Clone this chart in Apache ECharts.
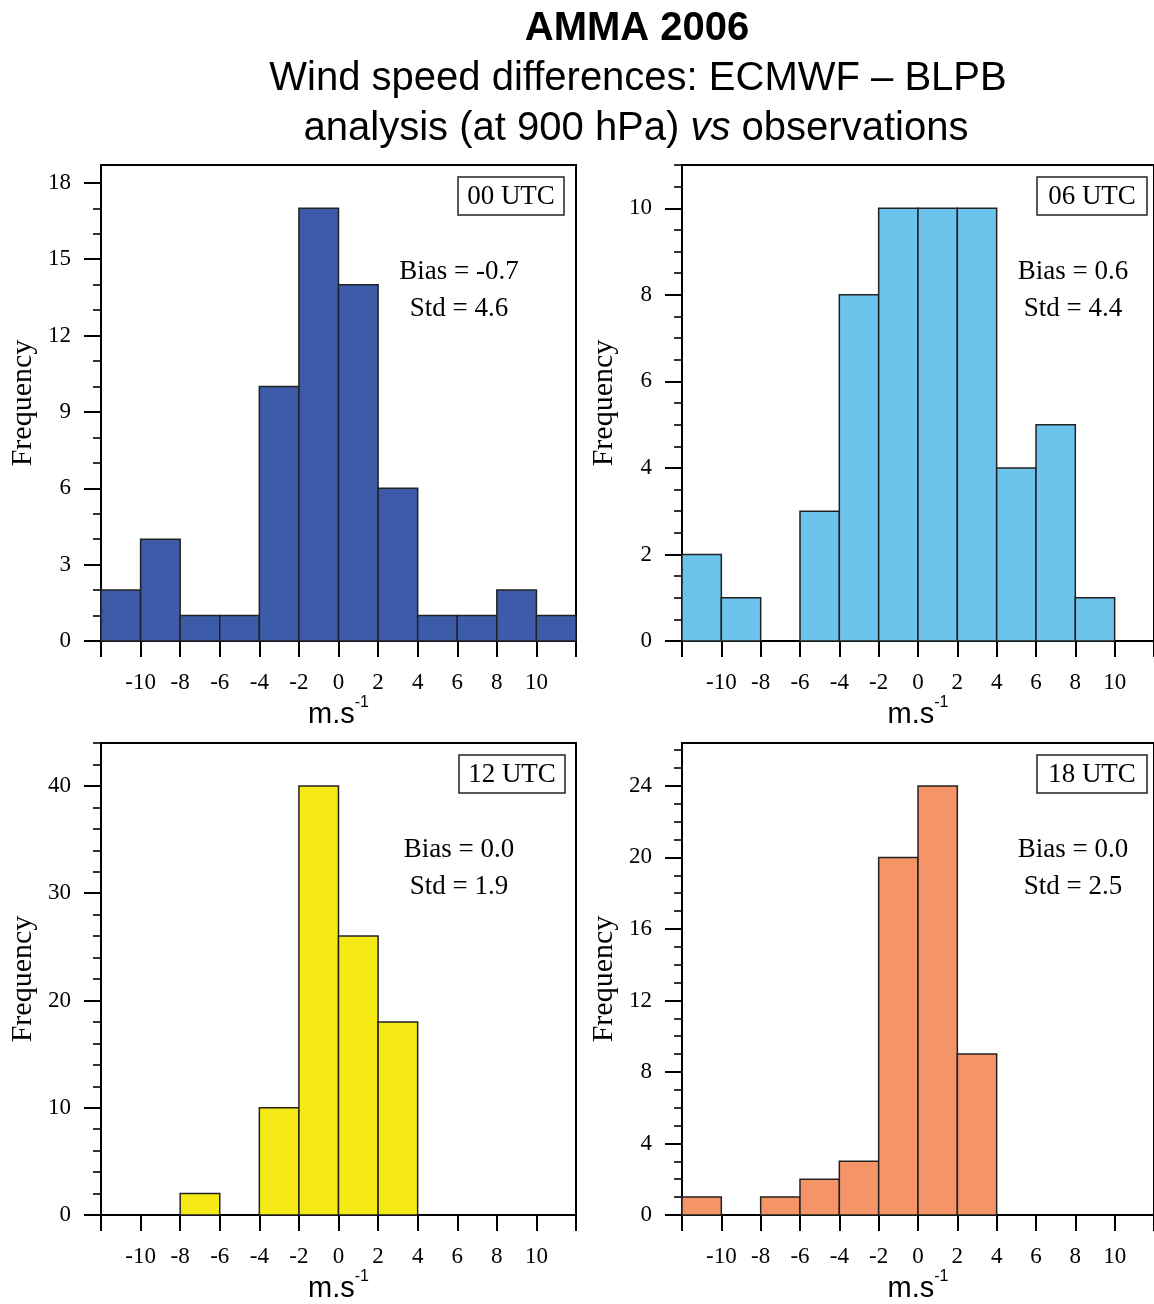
<!DOCTYPE html>
<html>
<head>
<meta charset="utf-8">
<script src="https://cdn.jsdelivr.net/npm/echarts@6/dist/echarts.min.js"></script>
<style>
html,body{margin:0;padding:0;background:#fff;overflow:hidden;}
#chart{width:1154px;height:1304px;}
</style>
</head>
<body>
<div id="chart"></div>
<script>
// ---------------- DATA ----------------
const binEdges = [-12, -10, -8, -6, -4, -2, 0, 2, 4, 6, 8, 10, 12];
const counts00 = [2, 4, 1, 1, 10, 17, 14, 6, 1, 1, 2, 1];
const counts06 = [2, 1, 0, 3, 8, 10, 10, 10, 4, 5, 1, 0];
const counts12 = [0, 0, 2, 0, 10, 40, 26, 18, 0, 0, 0, 0];
const counts18 = [1, 0, 1, 2, 3, 20, 24, 9, 0, 0, 0, 0];

const panelLabels = ['00 UTC', '06 UTC', '12 UTC', '18 UTC'];
const biasValues = ['-0.7', '0.6', '0.0', '0.0'];
const stdValues = ['4.6', '4.4', '1.9', '2.5'];

const xTickLabels = [-10, -8, -6, -4, -2, 0, 2, 4, 6, 8, 10];
const yMax = [18.7, 11, 44, 26.4];
const yMajor00 = [0, 3, 6, 9, 12, 15, 18];
const yMinor00 = [1, 2, 4, 5, 7, 8, 10, 11, 13, 14, 16, 17];
const yMajor06 = [0, 2, 4, 6, 8, 10];
const yMinor06 = [0.5, 1, 1.5, 2.5, 3, 3.5, 4.5, 5, 5.5, 6.5, 7, 7.5, 8.5, 9, 9.5, 10.5, 11];
const yMajor12 = [0, 10, 20, 30, 40];
const yMinor12 = [2, 4, 6, 8, 12, 14, 16, 18, 22, 24, 26, 28, 32, 34, 36, 38, 42, 44];
const yMajor18 = [0, 4, 8, 12, 16, 20, 24];
const yMinor18 = [1, 2, 3, 5, 6, 7, 9, 10, 11, 13, 14, 15, 17, 18, 19, 21, 22, 23, 25, 26];

const colors = ['#3c5ba9', '#6cc3ec', '#f4e914', '#f59466'];

// ---------------- LAYOUT ----------------
const counts = [counts00, counts06, counts12, counts18];
const yMajors = [yMajor00, yMajor06, yMajor12, yMajor18];
const yMinors = [yMinor00, yMinor06, yMinor12, yMinor18];
const grids = [
  {left: 101, top: 165, width: 475, height: 476},
  {left: 682, top: 165, width: 475, height: 476},
  {left: 101, top: 743, width: 475, height: 476},
  {left: 682, top: 743, width: 475, height: 476}
];
const serif = '"Liberation Serif", "Times New Roman", serif';
const sans = '"Liberation Sans", Arial, sans-serif';

const chart = echarts.init(document.getElementById('chart'), null, {renderer: 'canvas', width: 1154, height: 1304});

const xAxes = [], yAxes = [], series = [];
grids.forEach((g, i) => {
  xAxes.push({
    gridIndex: i, type: 'value', min: -12, max: 12, interval: 2,
    position: 'bottom',
    name: '{a|m.s}{b|-1}', nameLocation: 'middle', nameGap: 54,
    nameTextStyle: {
      rich: {
        a: {fontFamily: sans, fontSize: 29, color: '#000', verticalAlign: 'bottom', lineHeight: 34},
        b: {fontFamily: sans, fontSize: 16, color: '#000', verticalAlign: 'top', lineHeight: 34, padding: [0, 0, 14, 0]}
      }
    },
    axisLine: {show: true, onZero: false, lineStyle: {color: '#000', width: 2}},
    axisTick: {show: true, inside: false, length: 16, lineStyle: {color: '#000', width: 2}},
    axisLabel: {show: true, customValues: xTickLabels, margin: 30, fontFamily: serif, fontSize: 23, color: '#000'},
    splitLine: {show: false}
  });
  // major ticks + labels
  yAxes.push({
    gridIndex: i, type: 'value', min: 0, max: yMax[i], position: 'left',
    name: 'Frequency', nameLocation: 'middle', nameGap: 63, nameRotate: 90,
    nameTextStyle: {fontFamily: serif, fontSize: 30, color: '#000'},
    axisLine: {show: true, onZero: false, lineStyle: {color: '#000', width: 2}},
    axisTick: {show: true, inside: false, length: 17, customValues: yMajors[i], lineStyle: {color: '#000', width: 2}},
    axisLabel: {show: true, customValues: yMajors[i], margin: 30, fontFamily: serif, fontSize: 23, color: '#000'},
    splitLine: {show: false}
  });
  // minor ticks
  yAxes.push({
    gridIndex: i, type: 'value', min: 0, max: yMax[i], position: 'left', offset: 0,
    axisLine: {show: false, onZero: false},
    axisTick: {show: true, inside: false, length: 8, customValues: yMinors[i], lineStyle: {color: '#000', width: 1.6}},
    axisLabel: {show: false},
    splitLine: {show: false}
  });
  const data = counts[i].map((c, k) => [binEdges[k], binEdges[k + 1], c]);
  const fill = colors[i];
  series.push({
    type: 'custom', xAxisIndex: i, yAxisIndex: 2 * i,
    encode: {x: [0, 1], y: 2},
    data: data,
    renderItem: function (params, api) {
      const x0 = api.value(0), x1 = api.value(1), c = api.value(2);
      if (!c) return null;
      const p0 = api.coord([x0, c]);
      const p1 = api.coord([x1, 0]);
      return {
        type: 'rect',
        shape: {x: p0[0], y: p0[1], width: p1[0] - p0[0], height: p1[1] - p0[1]},
        style: {fill: fill, stroke: '#222', lineWidth: 1.5}
      };
    }
  });
});

// annotations
const boxPos = [
  {x: 458, y: 177, w: 106, h: 38},
  {x: 1037, y: 177, w: 110, h: 38},
  {x: 459, y: 755, w: 106, h: 38},
  {x: 1037, y: 755, w: 110, h: 38}
];
const statPos = [
  {x: 459, y: 272}, {x: 1073, y: 272}, {x: 459, y: 850}, {x: 1073, y: 850}
];
const graphics = [
  {type: 'text', x: 637, y: 29, style: {text: 'AMMA 2006', font: 'bold 40px ' + sans, fill: '#000', textAlign: 'center', textVerticalAlign: 'middle'}},
  {type: 'text', x: 638, y: 79, style: {text: 'Wind speed differences: ECMWF \u2013 BLPB', font: '40px ' + sans, fill: '#000', textAlign: 'center', textVerticalAlign: 'middle'}},
  {type: 'text', x: 636, y: 129, style: {
    text: '{n|analysis (at 900 hPa) }{i|vs}{n| observations}',
    rich: {
      n: {fontFamily: sans, fontSize: 40, fill: '#000'},
      i: {fontFamily: sans, fontSize: 40, fontStyle: 'italic', fill: '#000'}
    },
    textAlign: 'center', textVerticalAlign: 'middle'}}
];
boxPos.forEach((b, i) => {
  graphics.push({type: 'rect', shape: {x: b.x, y: b.y, width: b.w, height: b.h}, style: {fill: '#fff', stroke: '#222', lineWidth: 1.5}, z: 10});
  graphics.push({type: 'text', x: b.x + b.w / 2, y: b.y + b.h / 2 + 1, z: 11, style: {text: panelLabels[i], font: '27px ' + serif, fill: '#000', textAlign: 'center', textVerticalAlign: 'middle'}});
  const s = statPos[i];
  graphics.push({type: 'text', x: s.x, y: s.y, z: 11, style: {text: 'Bias = ' + biasValues[i], font: '27px ' + serif, fill: '#000', textAlign: 'center', textVerticalAlign: 'middle'}});
  graphics.push({type: 'text', x: s.x, y: s.y + 37, z: 11, style: {text: 'Std = ' + stdValues[i], font: '27px ' + serif, fill: '#000', textAlign: 'center', textVerticalAlign: 'middle'}});
});

chart.setOption({
  backgroundColor: '#fff',
  animation: false,
  grid: grids.map(g => Object.assign({show: true, borderColor: '#000', borderWidth: 2, backgroundColor: 'transparent', containLabel: false}, g)),
  xAxis: xAxes,
  yAxis: yAxes,
  series: series,
  graphic: graphics
});
</script>
</body>
</html>
